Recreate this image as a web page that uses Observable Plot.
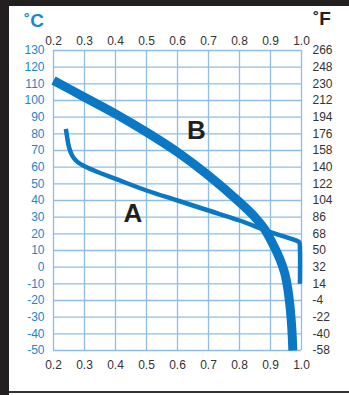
<!DOCTYPE html>
<html><head><meta charset="utf-8">
<script src="https://cdn.jsdelivr.net/npm/d3@7"></script>
<script src="https://cdn.jsdelivr.net/npm/@observablehq/plot@0.6"></script>
<style>
body{margin:0;background:#fff;}
#wrap{position:relative;width:349px;height:395px;overflow:hidden;font-family:"Liberation Sans",Arial,sans-serif;}
#wrap svg{position:absolute;left:0;top:0;}
.bar{position:absolute;background:#231f20;}
.unit{position:absolute;font-size:19px;font-weight:bold;line-height:1;}
</style></head><body>
<div id="wrap">
 <div class="bar" style="left:0;top:0;width:349px;height:6px"></div>
 <div class="bar" style="left:0;top:0;width:9px;height:395px"></div>
 <div class="bar" style="left:9px;top:391px;width:340px;height:1.5px;background:#333"></div>
 <div class="unit" style="left:24px;top:11px;color:#1a86d0">˚C</div>
 <div class="unit" style="left:313px;top:9px;color:#231f20">˚F</div>
</div>
<script>
const fractionTicks = [0.2, 0.3, 0.4, 0.5, 0.6, 0.7, 0.8, 0.9, 1.0];
const celsiusTicks = [130, 120, 110, 100, 90, 80, 70, 60, 50, 40, 30, 20, 10, 0, -10, -20, -30, -40, -50];
const fahrenheitLabels = [266, 248, 230, 212, 194, 176, 158, 140, 122, 104, 86, 68, 50, 32, 14, -4, -22, -40, -58];

const curveBx = [0.2, 0.3, 0.4, 0.5, 0.6, 0.7, 0.8, 0.85, 0.88, 0.91, 0.93, 0.945, 0.955, 0.962, 0.967, 0.97, 0.972];
const curveBt = [112, 102, 92, 81, 69, 55, 39, 30, 23, 13, 5, -3, -12, -22, -32, -41, -50];

const curveAx = [0.24, 0.244, 0.25, 0.26, 0.275, 0.3, 0.35, 0.4, 0.5, 0.6, 0.7, 0.8, 0.9, 0.95, 0.985, 0.993, 0.995, 0.995];
const curveAt = [83, 78, 72, 67, 63.5, 60.5, 56.5, 53, 46, 40, 34, 28, 21, 18, 15.8, 14.8, 11, -10];

const labelNames = ["A", "B"];
const labelX = [0.456, 0.661];
const labelT = [32, 82];

const blue = "#0a78c4";
const gridColor = "#8fbde8";
const idxB = d3.range(curveBx.length);
const idxA = d3.range(curveAx.length);
const idxL = d3.range(labelNames.length);

const chart = Plot.plot({
  width: 349, height: 395,
  marginLeft: 53, marginRight: 48, marginTop: 50, marginBottom: 45,
  x: {domain: [0.2, 1.0]},
  y: {domain: [-50, 130]},
  style: {fontFamily: "'Liberation Sans', Arial, sans-serif", fontSize: "12px", background: "transparent"},
  marks: [
    Plot.gridX(fractionTicks, {stroke: gridColor, strokeOpacity: 1, strokeWidth: 1.3}),
    Plot.gridY(celsiusTicks, {stroke: gridColor, strokeOpacity: 1, strokeWidth: 1.3}),
    Plot.axisX(fractionTicks, {anchor: "top", tickSize: 0, tickPadding: 6, tickFormat: d => d.toFixed(1), fill: "#333", label: null}),
    Plot.axisX(fractionTicks, {anchor: "bottom", tickSize: 0, tickPadding: 10, tickFormat: d => d.toFixed(1), fill: "#333", label: null}),
    Plot.axisY(celsiusTicks, {anchor: "left", tickSize: 0, tickPadding: 9, tickFormat: d => String(d), fill: "#1a86d0", label: null}),
    Plot.axisY(celsiusTicks, {anchor: "right", tickSize: 0, tickPadding: 11, tickFormat: d => String(fahrenheitLabels[celsiusTicks.indexOf(d)]), fill: "#333", label: null}),
    Plot.line(idxB, {x: i => curveBx[i], y: i => curveBt[i], stroke: blue, strokeWidth: 9, curve: "catmull-rom", strokeLinecap: "butt"}),
    Plot.line(idxA, {x: i => curveAx[i], y: i => curveAt[i], stroke: blue, strokeWidth: 4.5, curve: "catmull-rom", strokeLinecap: "butt", strokeLinejoin: "round"}),
    Plot.text(idxL, {x: i => labelX[i], y: i => labelT[i], text: i => labelNames[i], fontSize: 26, fontWeight: "bold", fill: "#231f20"})
  ]
});
document.getElementById("wrap").prepend(chart);
</script>
</body></html>
